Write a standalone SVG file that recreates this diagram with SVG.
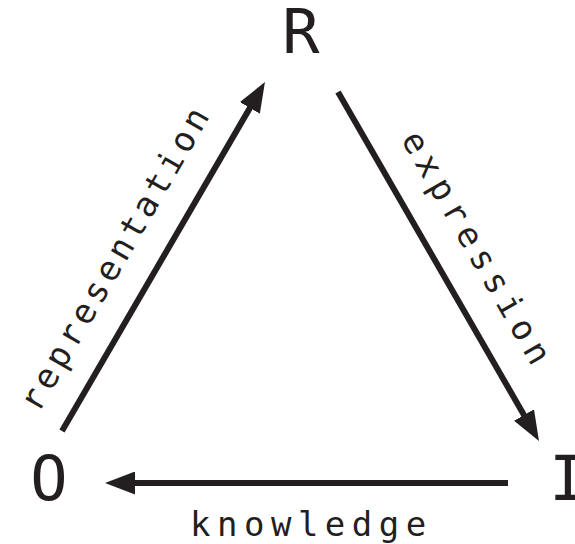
<svg xmlns="http://www.w3.org/2000/svg" width="575" height="544" viewBox="0 0 575 544">
<style>
.node{font-family:"DejaVu Sans Mono","Liberation Mono",monospace;font-size:62px;fill:#231f20;text-anchor:middle}
.lbl{font-family:"DejaVu Sans Mono","Liberation Mono",monospace;font-size:34px;fill:#231f20;letter-spacing:6.5px}
.conn line{stroke:#231f20;stroke-width:6;fill:none;marker-end:url(#ah)}
</style>
<defs>
<marker id="ah" markerUnits="userSpaceOnUse" markerWidth="30" markerHeight="23" refX="10" refY="11.5" orient="auto" viewBox="0 0 30 23">
<path d="M0,0 L30,11.5 L0,23 z" fill="#231f20"/>
</marker>
</defs>
<rect width="575" height="544" fill="#fff"/>
<g id="node-R"><text class="node" x="301" y="53">R</text></g>
<g id="node-O"><text class="node" x="49" y="500">O</text></g>
<g id="node-I"><text class="node" x="568" y="500">I</text></g>
<g id="connectors" class="conn">
<line x1="62" y1="431" x2="254.9" y2="99.3"/>
<line x1="338" y1="92" x2="529" y2="423.7"/>
<line x1="508" y1="483" x2="125" y2="483"/>
</g>
<g id="labels">
<text class="lbl" text-anchor="middle" style="letter-spacing:4.4px" transform="translate(125.5,263) rotate(-60)">representation</text>
<text class="lbl" text-anchor="middle" transform="translate(468,256) rotate(60)">expression</text>
<text class="lbl" x="190" y="536">knowledge</text>
</g>
</svg>
